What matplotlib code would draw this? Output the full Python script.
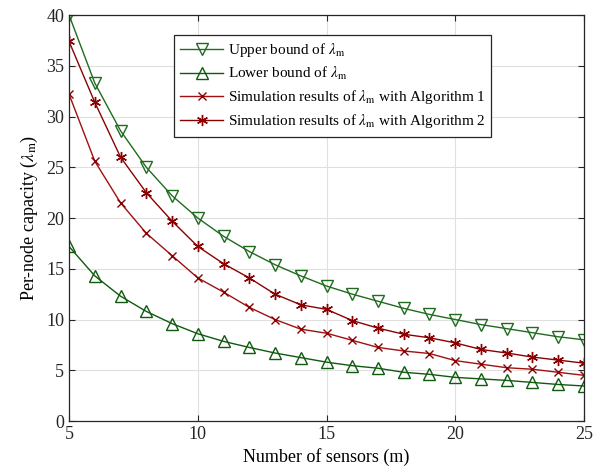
import matplotlib
matplotlib.use("Agg")
import matplotlib.pyplot as plt

m = list(range(5, 26))
upper_bound = [40.0, 33.3, 28.6, 25.0, 22.2, 20.0, 18.2, 16.7, 15.4, 14.3, 13.3,
               12.5, 11.8, 11.1, 10.5, 10.0, 9.5, 9.1, 8.7, 8.3, 8.0]
lower_bound = [17.2, 14.3, 12.3, 10.8, 9.6, 8.6, 7.85, 7.25, 6.7, 6.25, 5.8,
               5.45, 5.2, 4.8, 4.6, 4.3, 4.15, 4.0, 3.8, 3.6, 3.45]
sim_alg1 = [32.2, 25.6, 21.5, 18.5, 16.3, 14.1, 12.7, 11.2, 10.0, 9.05, 8.65,
            7.95, 7.25, 6.9, 6.65, 5.95, 5.6, 5.25, 5.1, 4.8, 4.5]
sim_alg2 = [37.4, 31.4, 26.0, 22.5, 19.7, 17.2, 15.5, 14.1, 12.5, 11.45, 11.0,
            9.9, 9.15, 8.55, 8.2, 7.7, 7.05, 6.7, 6.3, 6.0, 5.7]

xticks = [5, 10, 15, 20, 25]
yticks = [0, 5, 10, 15, 20, 25, 30, 35, 40]

plt.rcParams["font.family"] = ["Liberation Serif", "DejaVu Serif"]
plt.rcParams["mathtext.fontset"] = "stix"

fig = plt.figure(figsize=(5.93, 4.69), dpi=100)
ax = fig.add_axes([0.1164, 0.1023, 0.8684, 0.8657])

green_up = "#1f6b1f"
green_lo = "#0f5a0f"
red1 = "#a01010"
red2 = "#8b0000"

ax.plot(m, upper_bound, color=green_up, lw=1.0, marker="v", ms=9,
        mfc="none", mec=green_up, mew=1.0,
        label=r"Upper bound of $\lambda_{\rm m}$")
ax.plot(m, lower_bound, color=green_lo, lw=1.0, marker="^", ms=9,
        mfc="none", mec=green_lo, mew=1.0,
        label=r"Lower bound of $\lambda_{\rm m}$")
ax.plot(m, sim_alg1, color=red1, lw=1.0, marker="x", ms=6,
        mec=red2, mew=1.0,
        label=r"Simulation results of $\lambda_{\rm m}$ with Algorithm 1")
ax.plot(m, sim_alg2, color=red2, lw=1.0, marker=(6, 2, 0), ms=8,
        mec=red2, mew=1.0,
        label=r"Simulation results of $\lambda_{\rm m}$ with Algorithm 2")

ax.set_xlim(5, 25)
ax.set_ylim(0, 40)
ax.set_xticks(xticks)
ax.set_yticks(yticks)
ax.grid(True, color="#e0e0e0", lw=0.8)
ax.set_axisbelow(True)
ax.tick_params(direction="in", top=True, right=True, labelsize=13,
               length=4, colors="#262626")
for s in ax.spines.values():
    s.set_color("#262626")
    s.set_linewidth(0.9)

ax.set_xlabel("Number of sensors (m)", fontsize=13, labelpad=4)
ax.set_ylabel(r"Per-node capacity ($\lambda_{\rm m}$)", fontsize=13, labelpad=4)

leg = ax.legend(loc="upper left", bbox_to_anchor=(0.204, 0.951), fontsize=11,
                fancybox=False, edgecolor="#262626", framealpha=1,
                handlelength=2.8, borderpad=0.4, labelspacing=0.4,
                handletextpad=0.3, borderaxespad=0)
leg.get_frame().set_linewidth(0.9)

fig.savefig("out.png", dpi=100)
